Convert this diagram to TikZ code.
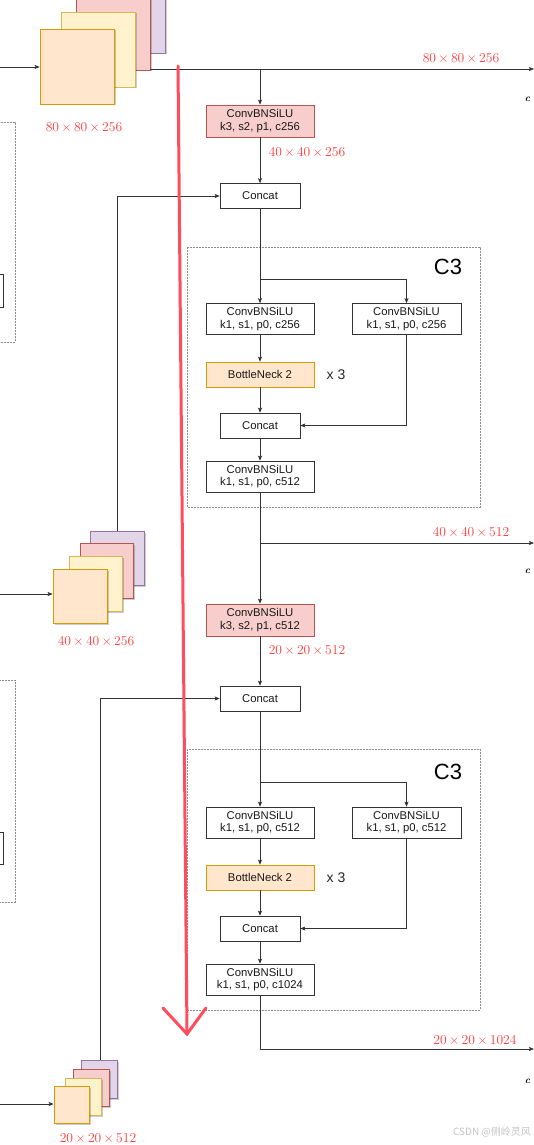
\documentclass[tikz,border=0pt]{standalone}
\usepackage{fontspec}
\newfontfamily\arialf{Liberation Sans}
\newfontfamily\cjkf{Noto Sans CJK SC}
\usetikzlibrary{arrows.meta,shadows}
\definecolor{orF}{HTML}{FFE6CC}\definecolor{orD}{HTML}{D79B00}
\definecolor{yeF}{HTML}{FFF2CC}\definecolor{yeD}{HTML}{D6B656}
\definecolor{pkF}{HTML}{F8CECC}\definecolor{pkD}{HTML}{B85450}
\definecolor{puF}{HTML}{E1D5E7}\definecolor{puD}{HTML}{9673A6}
\definecolor{lblred}{HTML}{FF3B3B}
\definecolor{bigred}{RGB}{255,77,94}
\definecolor{wmgray}{HTML}{C4C4C4}
\newcommand{\dimlbl}[3]{#1\,\texttimes\,#2\,\texttimes\,#3}
\tikzset{
  box/.style={draw=black!80, fill=white, line width=0.6pt, align=center, inner sep=0pt,
    font=\arialf\fontsize{11.3}{12.8}\selectfont, text=black!90, minimum width=108pt, minimum height=31pt},
  catbox/.style={box, minimum width=80pt, minimum height=25pt},
  pinkbox/.style={box, fill=pkF, draw=pkD},
  bnbox/.style={box, fill=orF, draw=orD, minimum height=25pt},
  conn/.style={draw=black!80, line width=0.7pt},
  arr/.style={conn, -{Stealth[length=5pt,width=4pt,inset=1pt]}},
  redlbl/.style={text=lblred, inner sep=0pt, font=\fontsize{13.6}{15}\selectfont},
  cbox/.style={draw=black!45, line width=0.7pt, dash pattern=on 1.6pt off 1.4pt},
  sq/.style={line width=0.7pt, drop shadow={shadow xshift=1.5pt, shadow yshift=-1.5pt, opacity=0.2, fill=black}},
  sqo/.style={sq, fill=orF, draw=orD},
  sqy/.style={sq, fill=yeF, draw=yeD},
  sqp/.style={sq, fill=pkF, draw=pkD},
  squ/.style={sq, fill=puF, draw=puD},
  c3lbl/.style={inner sep=0pt, font=\arialf\fontsize{22}{24}\selectfont},
  xlbl/.style={inner sep=0pt, font=\arialf\fontsize{14}{16}\selectfont, text=black!85},
  clbl/.style={inner sep=0pt, font=\fontsize{10}{12}\selectfont\bfseries\itshape},
  redline/.style={draw=bigred, line width=3pt, line cap=round, line join=miter}
}
\begin{document}
\begin{tikzpicture}[x=1pt,y=-1pt]
\clip (0,0) rectangle (534,1145);
\fill[white] (0,0) rectangle (534,1145);

% left partial dashed boxes
\draw[cbox] (-10,122) rectangle (15,342);
\draw[conn] (-10,274) rectangle (3,307);
\draw[cbox] (-10,680) rectangle (15,902);
\draw[conn] (-10,832) rectangle (3,864);

% top stack
\draw[squ] (91,-22) rectangle (165,53);
\draw[sqp] (76,-5) rectangle (150,70);
\draw[sqy] (61,12) rectangle (135,87);
\node[sqo, minimum width=74pt, minimum height=75pt, inner sep=0pt] (s1) at (77,66.5) {};
\coordinate (in1) at (0,67);
\coordinate (s1out) at (150,69);
\coordinate (o1) at (534,69);
\coordinate (j1) at (260,69);

% middle stack
\draw[squ] (90,531) rectangle (144,585);
\draw[sqp] (80,543) rectangle (133,598);
\draw[sqy] (69,556) rectangle (122,611);
\node[sqo, minimum width=54pt, minimum height=54pt, inner sep=0pt] (s2) at (80,596) {};
\coordinate (in2) at (0,594);
\coordinate (s2up) at (117,531);

% bottom stack
\draw[squ] (81,1060) rectangle (117,1098);
\draw[sqp] (73,1069) rectangle (109,1106);
\draw[sqy] (65,1078) rectangle (101,1115);
\node[sqo, minimum width=35pt, minimum height=37pt, inner sep=0pt] (s3) at (71.5,1104.5) {};
\coordinate (in3) at (0,1104);
\coordinate (s3up) at (100,1060);

% C3 dashed boxes
\draw[cbox] (187,247) rectangle (480,507);
\draw[cbox] (187,749) rectangle (480,1010);
\node[c3lbl] (c3t1) at (448,267) {C3};
\node[c3lbl] (c3t2) at (448,772) {C3};

% nodes block 1
\node[pinkbox, minimum height=32pt] (cbs1) at (260,121) {ConvBNSiLU\\k3, s2, p1, c256};
\node[catbox] (cat1) at (260,196) {Concat};
\node[box] (c3a) at (260,319) {ConvBNSiLU\\k1, s1, p0, c256};
\node[box, minimum width=109pt] (c3b) at (406.5,319) {ConvBNSiLU\\k1, s1, p0, c256};
\node[bnbox] (bn1) at (260,374.5) {BottleNeck 2};
\node[xlbl] (x31) at (336,375) {x 3};
\node[catbox] (cat2) at (260,425.5) {Concat};
\node[box] (cbs2) at (260,476.5) {ConvBNSiLU\\k1, s1, p0, c512};
\coordinate (br1) at (260,279);
\coordinate (j2) at (260,543);
\coordinate (o2) at (534,543);

% nodes block 2
\node[pinkbox, minimum height=32pt] (cbs3) at (260,620) {ConvBNSiLU\\k3, s2, p1, c512};
\node[catbox] (cat3) at (260,698.5) {Concat};
\node[box] (c3c) at (260,822.5) {ConvBNSiLU\\k1, s1, p0, c512};
\node[box, minimum width=109pt] (c3d) at (406.5,822.5) {ConvBNSiLU\\k1, s1, p0, c512};
\node[bnbox] (bn2) at (260,877.5) {BottleNeck 2};
\node[xlbl] (x32) at (336,878) {x 3};
\node[catbox] (cat4) at (260,928.5) {Concat};
\node[box] (cbs4) at (260,979.5) {ConvBNSiLU\\k1, s1, p0, c1024};
\coordinate (br2) at (260,782);
\coordinate (j3) at (260,1049);
\coordinate (o3) at (534,1049);

% connectors
\draw[arr] (in1) -- (s1.west |- in1);
\draw[arr] (s1out) -- (o1);
\draw[arr] (j1) -- (cbs1.north);
\draw[arr] (cbs1.south) -- (cat1.north);
\draw[arr] (s2up) |- (cat1.west);
\draw[arr] (cat1.south) -- (c3a.north);
\draw[arr] (br1) -| (c3b.north);
\draw[arr] (c3a.south) -- (bn1.north);
\draw[arr] (bn1.south) -- (cat2.north);
\draw[arr] (c3b.south) |- (cat2.east);
\draw[arr] (cat2.south) -- (cbs2.north);
\draw[arr] (cbs2.south) -- (cbs3.north);
\draw[arr] (j2) -- (o2);
\draw[arr] (in2) -- (s2.west |- in2);
\draw[arr] (cbs3.south) -- (cat3.north);
\draw[arr] (s3up) |- (cat3.west);
\draw[arr] (cat3.south) -- (c3c.north);
\draw[arr] (br2) -| (c3d.north);
\draw[arr] (c3c.south) -- (bn2.north);
\draw[arr] (bn2.south) -- (cat4.north);
\draw[arr] (c3d.south) |- (cat4.east);
\draw[arr] (cat4.south) -- (cbs4.north);
\draw[arr] (cbs4.south) -- (j3) -- (o3);
\draw[arr] (in3) -- (s3.west |- in3);

% labels
\node[redlbl] (l1) at (461,58) {\dimlbl{80}{80}{256}};
\node[redlbl] (l2) at (84,127) {\dimlbl{80}{80}{256}};
\node[redlbl] (l3) at (307,152) {\dimlbl{40}{40}{256}};
\node[redlbl] (l4) at (471,532) {\dimlbl{40}{40}{512}};
\node[redlbl] (l5) at (96,641) {\dimlbl{40}{40}{256}};
\node[redlbl] (l6) at (307,650) {\dimlbl{20}{20}{512}};
\node[redlbl] (l7) at (475,1040) {\dimlbl{20}{20}{1024}};
\node[redlbl] (l8) at (98,1138.5) {\dimlbl{20}{20}{512}};
\node[clbl] (cc1) at (527.5,99) {c};
\node[clbl] (cc2) at (527.5,571) {c};
\node[clbl] (cc3) at (527.5,1081) {c};

% big red arrow
\coordinate (rs) at (178,66);
\coordinate (re) at (187,1034);
\coordinate (va) at (163,1008);
\coordinate (vb) at (206,1008);
\draw[redline] (rs) -- (re);
\draw[redline] (va) -- (re) -- (vb);

% watermark
\node[inner sep=0pt, text=wmgray, font=\cjkf\fontsize{10}{12}\selectfont] (wm) at (492,1132) {CSDN @侧岭灵风};
\end{tikzpicture}
\end{document}
